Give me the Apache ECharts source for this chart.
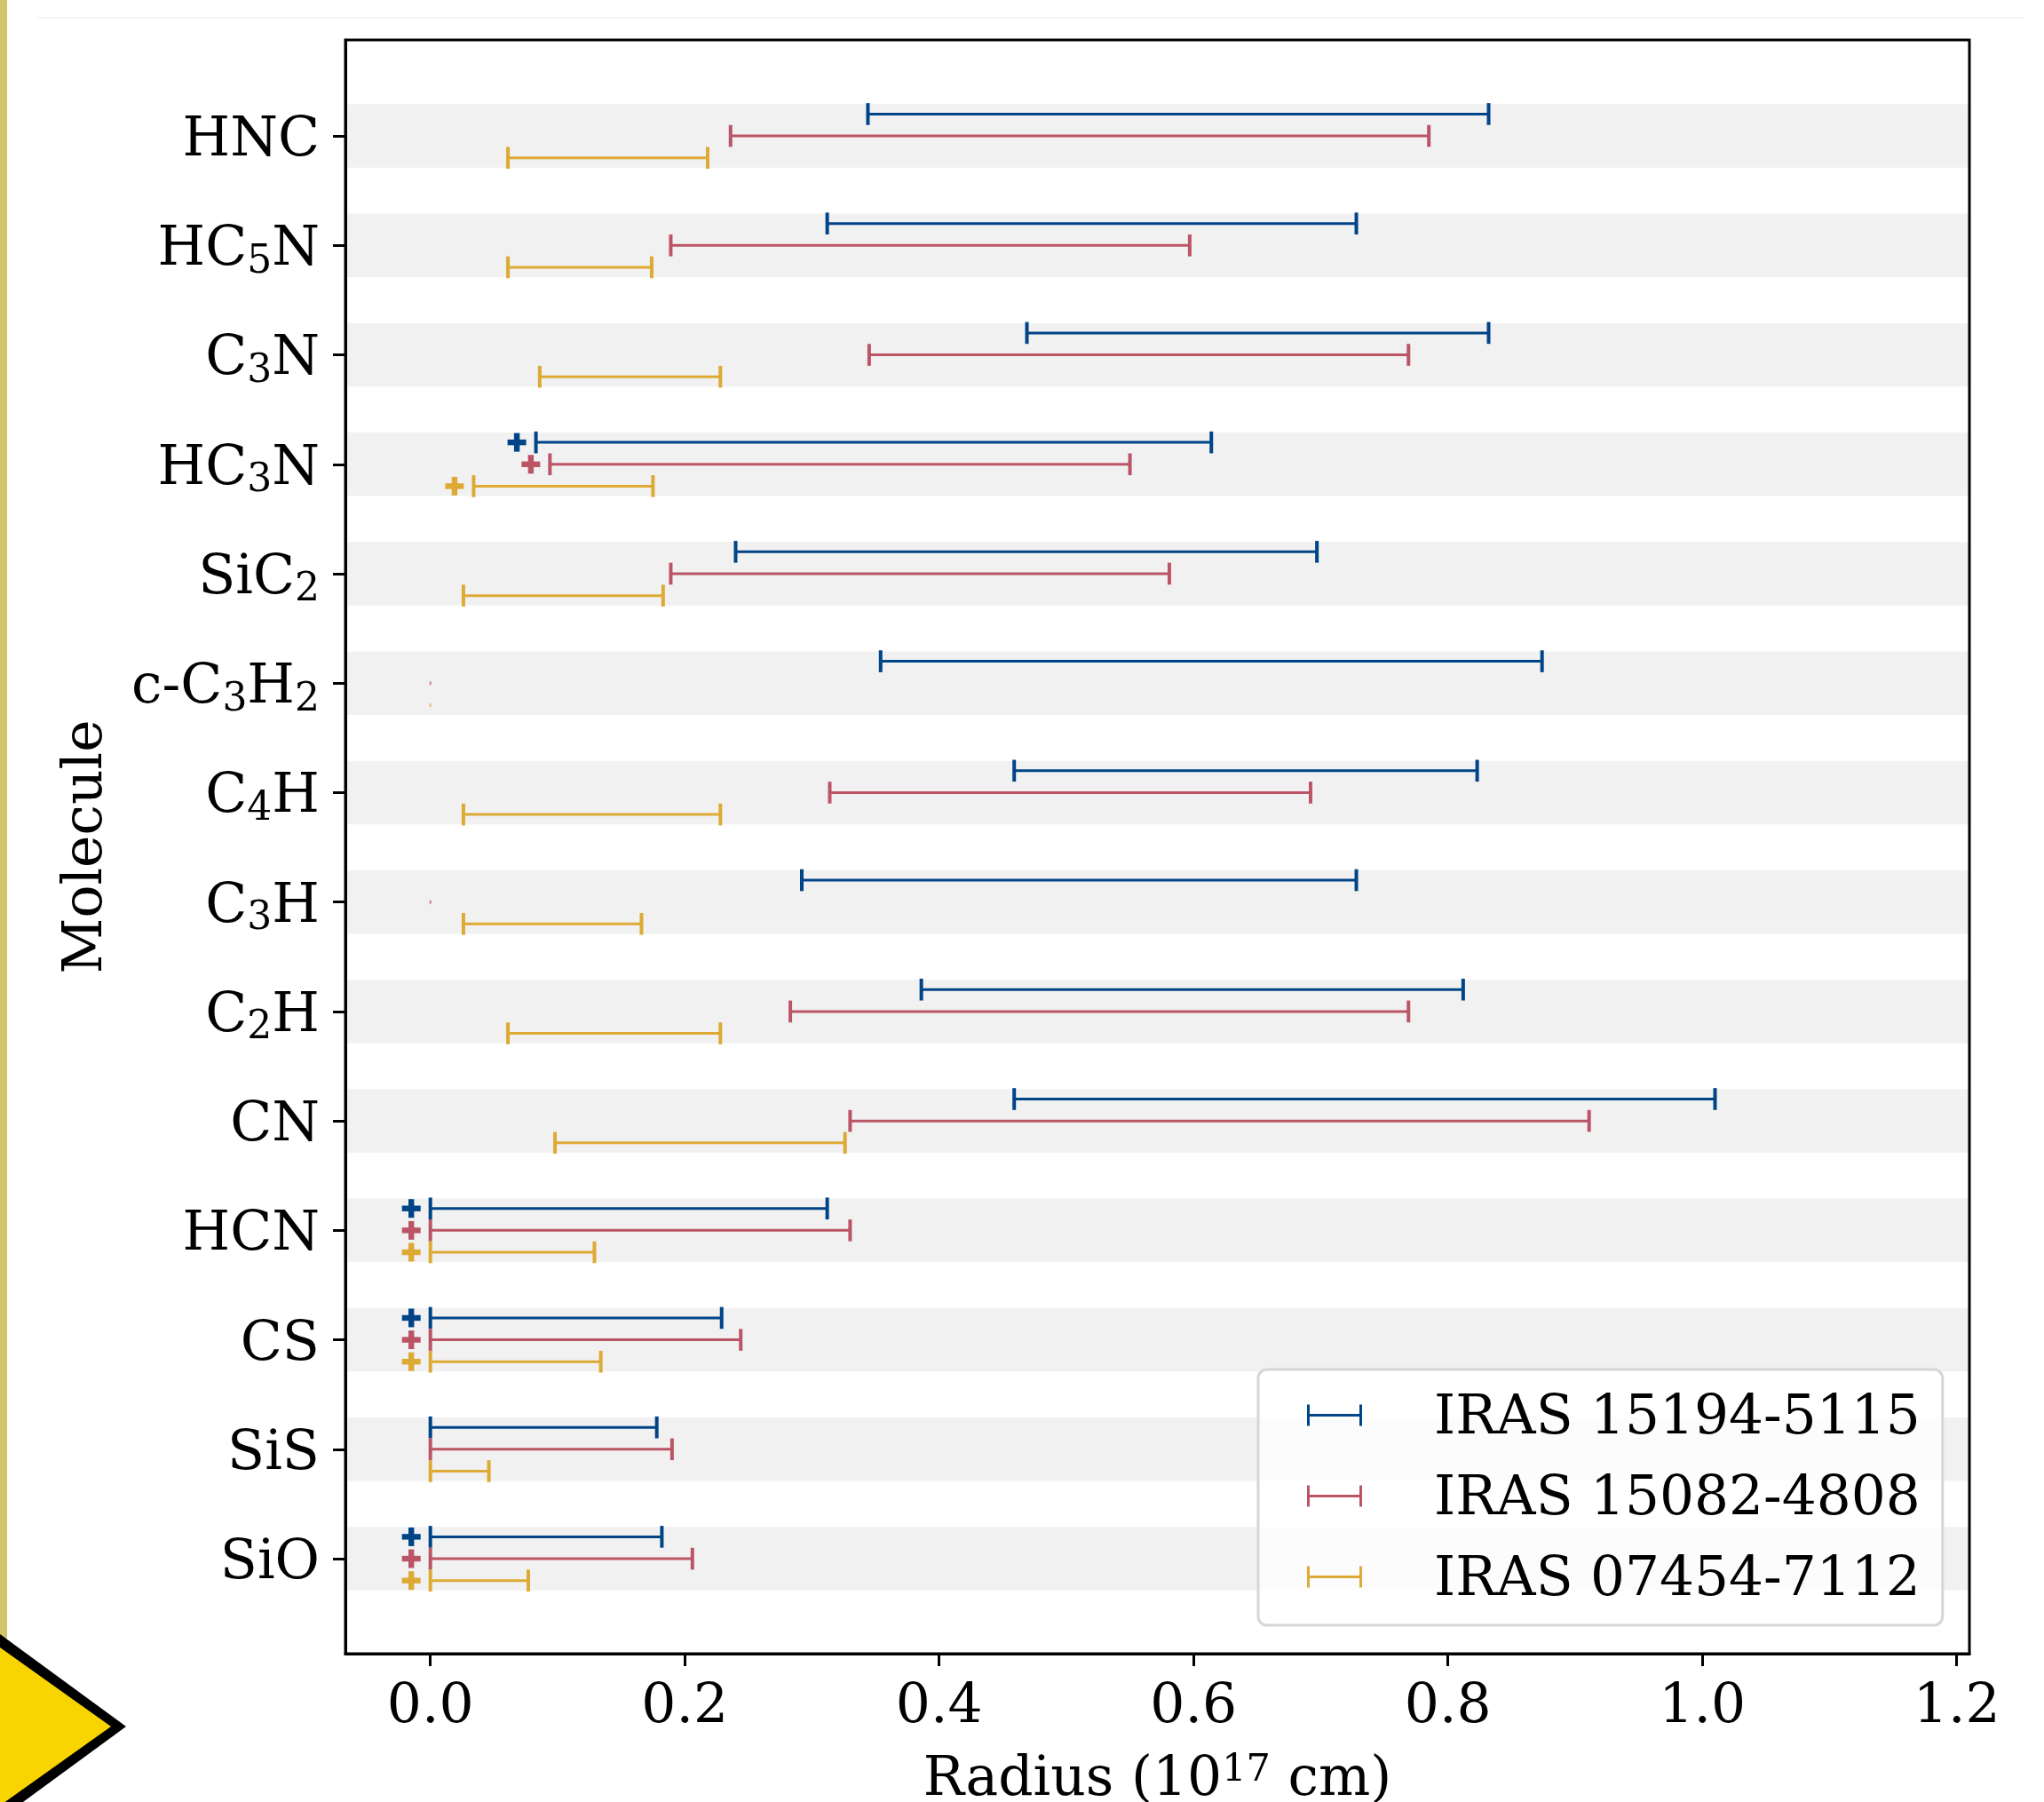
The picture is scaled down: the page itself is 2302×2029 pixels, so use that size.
<!DOCTYPE html>
<html><head><meta charset="utf-8">
<style>html,body{margin:0;padding:0;background:#fff}#c{width:2302px;height:2029px}</style>
<script src="https://cdn.jsdelivr.net/npm/echarts@6/dist/echarts.min.js"></script></head>
<body><div id="c"></div>
<script>
const molecules = ["SiO","SiS","CS","HCN","CN","C2H","C3H","C4H","c-C3H2","SiC2","HC3N","C3N","HC5N","HNC"];
const xTicks = [0,0.2,0.4,0.6,0.8,1.0,1.2];
const names = ["IRAS 15194-5115","IRAS 15082-4808","IRAS 07454-7112"];
const colors = ["#004488","#BB5566","#DDAA33"];
const blueLow  = [0,0,0,0,0.459,0.386,0.292,0.459,0.354,0.240,0.083,0.469,0.312,0.344];
const blueHigh = [0.182,0.178,0.229,0.312,1.010,0.812,0.728,0.823,0.874,0.697,0.614,0.832,0.728,0.832];
const redLow   = [0,0,0,0,0.330,0.283,0,0.314,0,0.189,0.094,0.345,0.189,0.236];
const redHigh  = [0.206,0.190,0.244,0.330,0.911,0.769,0,0.692,0,0.581,0.550,0.769,0.597,0.785];
const yelLow   = [0,0,0,0,0.098,0.061,0.026,0.026,0,0.026,0.034,0.086,0.061,0.061];
const yelHigh  = [0.077,0.046,0.134,0.129,0.326,0.228,0.166,0.228,0,0.183,0.175,0.228,0.174,0.218];
const blueInner = [-0.015,null,-0.015,-0.015,null,null,null,null,null,null,0.068,null,null,null];
const redInner  = [-0.015,null,-0.015,-0.015,null,null,null,null,null,null,0.079,null,null,null];
const yelInner  = [-0.015,null,-0.015,-0.015,null,null,null,null,null,null,0.019,null,null,null];
const bandHalf = 0.29;
const offsets = [0.2,0,-0.2];
const FONT = '"DejaVu Serif"';
const FS = 61.5;

const rows = (lo,hi,inn)=>lo.map((v,i)=>[i,v,hi[i],inn[i]]);
function barItem(k){
  return function(params,api){
    const y=api.value(0)+offsets[k], lo=api.value(1), hi=api.value(2), inn=api.value(3);
    const a=api.coord([lo,y]), b=api.coord([hi,y]);
    const col=colors[k], kids=[];
    if(lo===0&&hi===0&&k!==0){
      kids.push({type:'rect',shape:{x:a[0]-1,y:a[1]-2,width:2,height:4},style:{fill:col,opacity:.7}});
      return {type:'group',children:kids};
    }
    kids.push({type:'line',shape:{x1:a[0],y1:a[1],x2:b[0],y2:b[1]},style:{stroke:col,lineWidth:3}});
    [a[0],b[0]].forEach(x=>kids.push({type:'rect',shape:{x:x-2,y:a[1]-12.3,width:4,height:24.6},style:{fill:col}}));
    if(!isNaN(inn)&&inn!==null){
      const p=api.coord([inn,y]);
      kids.push({type:'rect',shape:{x:p[0]-10.5,y:p[1]-3.2,width:21,height:6.4},style:{fill:col}});
      kids.push({type:'rect',shape:{x:p[0]-3.2,y:p[1]-10.5,width:6.4,height:21},style:{fill:col}});
    }
    return {type:'group',children:kids};
  };
}
const capIcon='path://M0 0H3V10.6H59V0H62V24H59V13.4H3V24H0ZM0 33L0 33Z';
const chart=echarts.init(document.getElementById('c'),null,{renderer:'canvas'});
chart.setOption({
  animation:false,
  backgroundColor:'#fff',
  grid:{left:389,top:45,width:1829,height:1817,show:true,z:10,borderColor:'#000',borderWidth:3,backgroundColor:'transparent',containLabel:false,outerBoundsMode:'none'},
  xAxis:{type:'value',min:-0.0668,max:1.21,z:11,
    name:'Radius (10{p|17} cm)',nameLocation:'middle',nameGap:110,
    nameTextStyle:{fontFamily:FONT,fontSize:FS,color:'#000',rich:{p:{fontFamily:FONT,fontSize:43,color:'#000',padding:[0,0,24,0]}}},
    axisLine:{show:true,onZero:false,lineStyle:{color:'#000',width:3}},splitLine:{show:false},
    axisTick:{show:true,length:14,customValues:xTicks,lineStyle:{color:'#000',width:3}},
    axisLabel:{customValues:xTicks,margin:30,fontFamily:FONT,fontSize:FS,color:'#000',formatter:v=>Number(v).toFixed(1)}},
  yAxis:{type:'value',min:-0.868,max:13.877,z:11,
    name:'Molecule',nameLocation:'middle',nameGap:260,
    nameTextStyle:{fontFamily:FONT,fontSize:FS,color:'#000'},
    axisLine:{show:true,onZero:false,lineStyle:{color:'#000',width:3}},splitLine:{show:false},
    axisTick:{show:true,length:14,customValues:molecules.map((m,i)=>i),lineStyle:{color:'#000',width:3}},
    axisLabel:{customValues:molecules.map((m,i)=>i),margin:29,fontFamily:FONT,fontSize:FS,color:'#000',padding:[12,0,0,0],
      formatter:v=>molecules[Math.round(v)].replace(/(\d)/g,'{s|$1}'),
      rich:{s:{fontFamily:FONT,fontSize:44,color:'#000',padding:[26,0,0,0]}}}},
  legend:{orient:'vertical',left:1417,top:1542,padding:[21,25,15,55],itemWidth:62,itemHeight:33,itemGap:21,
    backgroundColor:'rgba(255,255,255,0.8)',borderColor:'#d6d6d6',borderWidth:3,borderRadius:10,
    data:names.map(n=>({name:n,icon:capIcon})),selectedMode:false,
    textStyle:{fontFamily:FONT,fontSize:61.3,color:'#000',lineHeight:70,padding:[0,0,0,76]}},
  series:[
    {type:'custom',name:'bands',silent:true,z:1,data:molecules.map((m,i)=>[i]),
      renderItem:(p,api)=>{const y=api.value(0);const a=api.coord([-0.0668,y+bandHalf]),b=api.coord([1.21,y-bandHalf]);
        return {type:'rect',shape:{x:a[0],y:a[1],width:b[0]-a[0],height:b[1]-a[1]},style:{fill:'#f1f1f1'}};},
      encode:{x:[],y:0}},
    {type:'custom',name:names[0],z:3,silent:true,itemStyle:{color:colors[0]},data:rows(blueLow,blueHigh,blueInner),renderItem:barItem(0),encode:{x:[1,2],y:0}},
    {type:'custom',name:names[1],z:3,silent:true,itemStyle:{color:colors[1]},data:rows(redLow,redHigh,redInner),renderItem:barItem(1),encode:{x:[1,2],y:0}},
    {type:'custom',name:names[2],z:3,silent:true,itemStyle:{color:colors[2]},data:rows(yelLow,yelHigh,yelInner),renderItem:barItem(2),encode:{x:[1,2],y:0}}
  ],
  graphic:[
    {type:'rect',shape:{x:0,y:0,width:8,height:1845},style:{fill:'#d3c56c'},z:20},
    {type:'rect',shape:{x:42,y:19,width:2236,height:2},style:{fill:'#f4f4f4'},z:20},
    {type:'polygon',shape:{points:[[0,1840],[142,1944],[0,2048]]},style:{fill:'#000'},z:21},
    {type:'polygon',shape:{points:[[0,1855],[125,1944],[0,2033]]},style:{fill:'#f8d500'},z:22}
  ]
});
</script></body></html>
